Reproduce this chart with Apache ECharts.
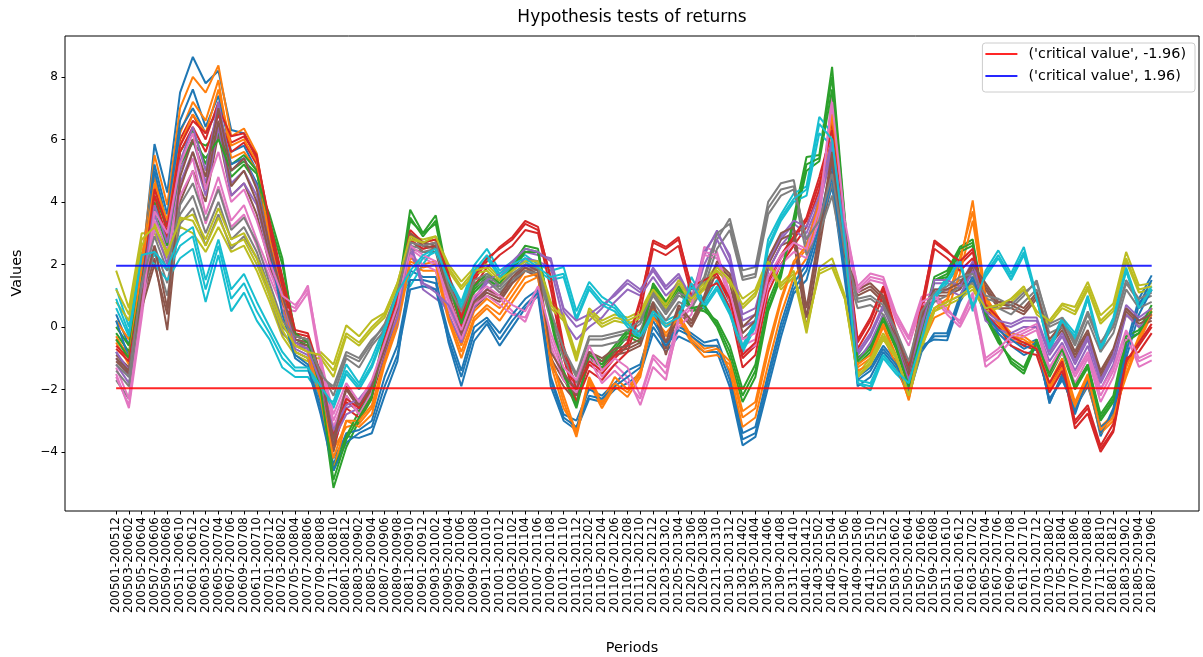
<!DOCTYPE html>
<html>
<head>
<meta charset="utf-8">
<script src="https://cdn.jsdelivr.net/npm/echarts@6/dist/echarts.min.js"></script>
<style>
  html, body { margin: 0; padding: 0; background: #ffffff; }
  #chart { width: 1203px; height: 657px; }
</style>
</head>
<body>
<div id="chart"></div>
<script>
// Rolling 12-month windows, stepped every two months
const periods = [
  '200501-200512','200503-200602','200505-200604','200507-200606','200509-200608','200511-200610',
  '200601-200612','200603-200702','200605-200704','200607-200706','200609-200708','200611-200710',
  '200701-200712','200703-200802','200705-200804','200707-200806','200709-200808','200711-200810',
  '200801-200812','200803-200902','200805-200904','200807-200906','200809-200908','200811-200910',
  '200901-200912','200903-201002','200905-201004','200907-201006','200909-201008','200911-201010',
  '201001-201012','201003-201102','201005-201104','201007-201106','201009-201108','201011-201110',
  '201101-201112','201103-201202','201105-201204','201107-201206','201109-201208','201111-201210',
  '201201-201212','201203-201302','201205-201304','201207-201306','201209-201308','201211-201310',
  '201301-201312','201303-201402','201305-201404','201307-201406','201309-201408','201311-201410',
  '201401-201412','201403-201502','201405-201504','201407-201506','201409-201508','201411-201510',
  '201501-201512','201503-201602','201505-201604','201507-201606','201509-201608','201511-201610',
  '201601-201612','201603-201702','201605-201704','201607-201706','201609-201708','201611-201710',
  '201701-201712','201703-201802','201705-201804','201707-201806','201709-201808','201711-201810',
  '201801-201812','201803-201902','201805-201904','201807-201906'
];

const yTicks = [-4, -2, 0, 2, 4, 6, 8];
const criticalLow = -1.96;
const criticalHigh = 1.96;
const tab10 = ['#1f77b4','#ff7f0e','#2ca02c','#d62728','#9467bd','#8c564b','#e377c2','#7f7f7f','#bcbd22','#17becf'];

// Test statistics, one array per return series
const line01 = [-0.8,-1.5,1.8,5.85,4.3,7.5,8.64,7.8,8.2,6.3, 6.2,5.4,3.2,1.0,-0.8,-1.0,-2.4,-4.2,-3.5,-3.55, -3.4,-2.2,-1.1,1.8,1.6,1.6,-0.5,-1.9,-0.45,0.1, -0.6,0.0,0.6,1.0,-1.9,-3.0,-3.3,-2.3,-2.4,-2.0, -1.8,-1.5,-0.2,-0.8,-0.3,-0.5,-0.8,-0.8,-1.92,-3.79, -3.52,-1.92,-0.32,1.07,1.5,3.0,4.5,1.5,-1.6,-1.3, -0.6,-1.1,-2.0,-0.6,-0.4,-0.43,0.8,1.5,0.3,0.0, -0.3,-0.6,-0.4,-2.45,-1.5,-2.8,-1.6,-3.5,-2.6,-0.6, 0.9,1.65];
const line02 = [-0.5,-1.2,2.0,5.5,3.9,7.0,8.0,7.5,8.37,6.1, 6.35,5.55,3.0,1.2,-0.5,-0.7,-2.0,-3.9,-3.2,-3.1, -2.6,-1.0,0.3,2.2,2.0,2.1,0.4,-0.6,0.5,0.9, 0.6,1.2,1.8,1.9,-0.9,-2.4,-3.52,-1.8,-2.6,-1.9, -2.24,-1.6,0.4,-0.3,0.2,-0.5,-0.96,-0.9,-1.2,-2.9, -2.6,-0.8,0.8,2.0,2.5,4.2,6.5,2.4,-1.3,-1.0, 0.0,-1.0,-2.35,-0.4,0.5,0.8,2.0,4.05,1.0,0.3, -0.2,-0.3,-0.6,-1.8,-1.0,-2.4,-1.5,-3.2,-2.8,-1.6, -0.5,0.4];
const line03 = [-0.2,-0.8,1.6,4.0,2.8,5.6,6.3,5.2,6.5,4.8, 5.2,4.6,3.6,2.2,-0.4,-0.6,-2.2,-5.15,-3.85,-3.0, -2.3,-0.3,1.0,3.75,3.0,3.57,1.5,0.0,1.2,1.6, 1.5,2.0,2.6,2.5,0.2,-1.6,-2.6,-1.0,-1.3,-0.8, -0.3,-0.5,1.2,0.6,1.2,0.5,0.6,0.0,-1.0,-2.4, -1.6,0.5,1.6,3.5,5.44,5.5,8.32,3.5,-1.0,-0.6, 0.4,-0.5,-1.8,0.0,1.6,1.8,2.56,2.8,0.5,-0.3, -1.17,-1.5,-0.5,-1.6,-0.8,-2.0,-1.3,-3.0,-2.4,-0.4, -0.2,0.6];
const line04 = [-0.6,-1.0,1.4,4.5,3.0,6.0,6.8,6.0,7.2,5.9, 6.1,5.5,3.3,1.5,-0.2,-0.3,-1.6,-3.6,-2.4,-2.7, -2.0,-0.5,0.8,3.0,2.6,2.7,1.6,0.2,1.5,2.1, 2.56,2.88,3.39,3.2,1.5,-0.8,-2.2,-1.2,-1.5,-1.0, -0.6,0.8,2.77,2.56,2.88,1.2,1.4,1.6,0.8,-1.0, -0.6,1.4,2.2,2.8,3.4,4.6,6.0,2.8,-0.5,0.2, 1.2,-0.2,-1.4,0.6,2.77,2.45,2.0,2.4,0.6,0.2, -0.4,-0.6,-0.75,-1.9,-1.2,-3.25,-2.77,-4.0,-3.36,-1.2, -0.6,0.0];
const line05 = [-1.0,-1.6,1.0,3.6,2.4,5.0,6.0,4.6,6.9,4.6, 5.0,4.2,2.4,0.9,-0.6,-0.8,-1.9,-3.4,-2.6,-2.4, -1.9,-0.8,0.2,2.6,1.2,0.9,0.6,-0.3,0.8,1.4, 1.6,2.0,2.4,2.3,2.2,0.5,0.0,0.2,0.6,1.07, 1.5,1.2,1.8,1.2,1.6,0.8,2.3,3.09,2.2,0.2, 0.4,2.0,2.8,3.3,3.0,4.0,5.5,2.9,-0.9,-0.3, 0.6,-0.3,-1.5,-0.1,1.4,1.4,1.2,2.0,0.4,0.1, 0.0,0.2,0.2,-0.9,-0.3,-1.2,-0.4,-1.8,-1.0,0.6, 0.2,0.5];
const line06 = [-0.9,-1.3,0.8,2.2,-0.1,4.0,5.0,4.0,6.2,4.2, 4.6,3.6,2.0,0.6,-0.5,-0.6,-1.8,-4.0,-2.2,-2.8, -2.2,-0.9,0.4,2.8,2.4,2.4,0.9,-0.4,0.6,1.0, 0.8,1.4,1.8,1.6,-1.2,-1.9,-2.4,-1.0,-1.2,-0.9, -0.8,-0.6,0.6,-0.9,0.5,0.0,0.8,1.8,1.4,-0.4, 0.0,1.8,2.6,2.8,-0.05,2.5,5.0,2.0,1.0,1.2, 0.8,-0.4,-1.6,0.2,1.0,1.0,1.2,1.8,1.2,0.6, 0.6,0.4,0.9,-0.6,-0.1,-1.0,-0.3,-1.6,-0.9,0.4, 0.0,0.2];
const line07 = [-1.5,-2.6,0.3,3.4,2.6,4.6,5.4,3.6,4.8,3.4, 3.9,2.8,1.8,0.8,0.6,1.33,-1.2,-3.0,-2.0,-2.6, -1.9,-0.6,0.6,2.5,2.2,2.0,0.8,-0.2,0.9,1.2, 0.9,0.5,0.16,1.2,-0.4,-1.5,-1.9,-0.8,-1.6,-1.2, -1.6,-2.5,-1.28,-1.7,0.2,0.6,2.56,2.4,1.0,-0.6, -0.4,1.5,2.2,2.6,2.4,3.6,7.5,3.2,1.3,1.71, 1.6,0.43,-0.32,0.96,1.1,0.6,0.1,1.0,-1.28,-0.96, -0.4,-0.2,0.0,-1.4,-0.7,-1.6,-0.9,-2.2,-1.4,-0.2, -1.28,-1.07];
const line08 = [-1.7,-2.3,1.2,2.6,1.4,3.6,4.2,3.0,4.0,2.8, 3.2,2.4,1.2,0.0,-0.4,-0.5,-1.6,-1.9,-0.8,-1.0, -0.4,0.0,1.0,2.6,2.5,2.6,1.2,0.6,1.4,1.6, 1.2,1.6,1.9,1.8,0.4,-0.8,-1.6,-0.4,-0.4,-0.3, -0.2,0.1,1.0,0.4,1.0,0.8,1.5,2.8,3.47,1.81, 1.92,4.0,4.6,4.7,2.6,3.2,4.6,2.2,0.8,0.9, 0.6,-0.2,-1.2,0.4,1.0,1.2,1.5,1.6,0.9,0.8, 0.6,1.0,1.49,0.0,0.2,-0.6,0.4,-0.6,0.0,1.4, 0.8,1.0];
const line09 = [1.8,0.6,3.0,3.0,2.2,3.2,3.0,2.4,3.2,2.4, 2.6,1.8,0.8,-0.3,-0.9,-1.1,-0.8,-1.2,0.05,-0.3, 0.2,0.45,1.4,2.9,2.8,2.9,2.0,1.45,1.9,2.0, 1.6,1.8,2.1,2.1,0.8,0.4,-0.9,0.6,0.2,0.4, 0.3,0.5,1.3,0.8,1.5,1.0,1.4,2.0,1.6,0.9, 1.2,2.2,1.4,1.8,0.0,1.7,1.9,0.9,-1.5,-1.0, -0.2,-0.9,-2.1,-0.6,0.6,0.8,1.0,1.4,0.6,0.7, 0.8,1.2,0.5,0.2,0.75,0.64,1.44,0.37,0.75,2.4, 1.33,1.4];
const line10 = [1.24,0.0,2.4,2.0,1.5,2.2,2.5,0.8,2.3,0.5, 1.1,0.2,-0.4,-1.3,-1.6,-1.6,-2.2,-2.4,-1.2,-1.8, -1.0,0.0,1.2,1.3,2.0,2.6,1.6,0.8,1.97,2.5, 1.8,2.1,2.3,2.0,1.8,1.92,0.5,1.44,0.96,0.7, 0.2,-0.2,0.6,0.2,0.4,1.6,0.8,1.5,0.6,-0.6, 0.2,2.8,3.6,4.27,4.5,6.72,6.2,2.8,-1.8,-2.03, -1.0,-1.5,-1.9,-0.5,1.0,1.6,2.2,0.5,1.8,2.45, 1.71,2.56,1.0,-0.8,0.2,-0.4,0.9,-0.8,0.2,1.8, 0.6,1.2];
const line11 = [0.4,-0.6,2.0,5.2,3.6,6.6,7.6,6.4,7.4,5.6, 5.8,5.0,2.8,0.8,-0.9,-1.2,-2.6,-4.4,-3.4,-3.3, -3.0,-1.6,-0.6,1.5,1.5,1.4,-0.2,-1.4,0.0,0.3, -0.2,0.4,0.9,1.2,-1.6,-2.8,-3.0,-2.0,-2.2,-1.8, -1.4,-1.2,0.2,-0.5,0.0,-0.2,-0.5,-0.4,-1.5,-3.4, -3.2,-1.5,0.1,1.4,2.0,3.4,5.2,2.0,-1.9,-1.6, -0.8,-1.3,-2.2,-0.8,-0.2,-0.2,1.0,1.8,0.4,-0.2, -0.6,-0.9,-0.7,-2.3,-1.7,-2.6,-1.9,-3.2,-2.9,-1.0, 0.4,1.2];
const line12 = [0.2,-0.4,2.2,4.8,3.2,6.2,7.2,6.6,7.9,5.4, 5.6,5.0,2.6,0.6,-0.8,-1.0,-2.3,-4.6,-3.0,-3.2, -2.8,-1.2,0.0,2.0,1.8,1.8,0.2,-1.0,0.2,0.6, 0.2,0.8,1.4,1.6,-1.2,-2.6,-3.3,-1.6,-2.4,-1.6, -2.0,-1.4,0.6,0.0,0.4,-0.3,-0.7,-0.6,-1.4,-3.2, -2.9,-1.2,0.4,1.6,2.2,3.8,6.0,2.2,-1.4,-1.2, -0.3,-1.2,-2.3,-0.6,0.3,0.5,1.7,3.4,0.8,0.1, -0.4,-0.5,-0.5,-2.0,-1.3,-2.6,-1.8,-3.4,-3.0,-1.3, -0.3,0.6];
const line13 = [0.0,-0.6,1.8,4.2,3.2,5.2,6.0,5.8,6.2,5.2, 5.5,5.0,3.0,1.6,-0.3,-0.4,-1.9,-4.6,-3.5,-2.7, -2.0,-0.2,1.1,3.4,3.0,3.3,1.3,0.1,1.1,1.5, 1.3,1.8,2.4,2.4,0.4,-1.4,-2.4,-0.8,-1.1,-0.6, -0.1,-0.3,1.4,0.8,1.3,0.6,0.5,0.2,-0.6,-2.0, -1.2,0.8,1.8,3.2,5.0,5.3,7.6,3.2,-1.2,-0.8, 0.2,-0.7,-1.9,-0.2,1.5,1.6,2.4,2.6,0.3,-0.5, -1.0,-1.3,-0.4,-1.5,-0.7,-1.9,-1.2,-2.8,-2.2,-0.3, -0.1,0.7];
const line14 = [-0.4,-0.9,1.6,4.2,2.8,5.6,6.4,5.6,6.8,5.6, 5.9,5.2,3.1,1.3,-0.3,-0.4,-1.7,-3.8,-2.6,-2.9, -2.2,-0.7,0.6,2.8,2.5,2.6,1.4,0.0,1.3,1.9, 2.3,2.6,3.1,3.0,1.2,-1.0,-2.4,-1.4,-1.7,-1.2, -0.8,0.5,2.5,2.3,2.6,1.0,1.2,1.4,0.6,-1.3, -0.9,1.1,2.0,2.6,3.2,4.4,6.6,2.6,-0.7,0.0, 1.0,-0.4,-1.6,0.4,2.5,2.2,1.8,2.2,0.4,0.0, -0.6,-0.8,-0.9,-2.1,-1.4,-3.0,-2.5,-3.8,-3.1,-1.0, -0.8,-0.2];
const line15 = [-1.2,-1.8,0.8,3.2,2.0,4.6,5.6,4.2,6.4,4.2, 4.6,3.9,2.2,0.7,-0.7,-0.9,-2.0,-3.6,-2.8,-2.6, -2.0,-0.9,0.1,2.4,1.4,1.2,0.4,-0.5,0.6,1.2, 1.4,1.8,2.2,2.1,1.9,0.2,-0.4,0.0,0.3,0.8, 1.2,1.0,1.6,1.0,1.4,0.6,2.0,2.8,2.0,0.0, 0.2,1.8,2.6,3.1,2.8,3.8,5.8,2.7,-1.1,-0.5, 0.4,-0.5,-1.7,-0.3,1.2,1.2,1.0,1.8,0.2,-0.1, -0.2,0.0,0.0,-1.1,-0.5,-1.4,-0.6,-2.0,-1.2,0.4, 0.0,0.3];
const line16 = [-1.1,-1.5,0.6,2.0,0.4,4.4,5.6,4.4,6.6,4.5, 5.0,4.0,2.3,0.8,-0.4,-0.5,-1.6,-3.8,-2.0,-2.6, -2.0,-0.8,0.5,2.9,2.6,2.5,1.0,-0.3,0.7,1.1, 0.9,1.5,1.9,1.7,-1.0,-1.7,-2.2,-0.9,-1.1,-0.8, -0.7,-0.5,0.7,-0.7,0.6,0.1,0.9,2.0,1.6,-0.2, 0.2,2.0,2.8,3.0,0.3,2.8,5.4,2.2,1.1,1.3, 0.9,-0.3,-1.5,0.3,1.1,1.1,1.3,1.9,1.3,0.7, 0.7,0.5,1.0,-0.5,0.0,-0.9,-0.2,-1.5,-0.8,0.5, 0.1,0.3];
const line17 = [-1.3,-2.3,0.5,3.2,2.4,4.2,5.0,3.3,4.5,3.2, 3.6,2.6,1.6,0.6,0.5,1.1,-1.3,-3.2,-2.2,-2.8, -2.1,-0.7,0.5,2.3,2.0,1.8,0.6,-0.4,0.7,1.0, 0.7,0.4,0.3,1.1,-0.6,-1.7,-2.1,-1.0,-1.8,-1.4, -1.8,-2.3,-1.0,-1.5,0.0,0.4,2.3,2.2,0.8,-0.8, -0.6,1.3,2.0,2.4,2.2,3.4,7.0,3.0,1.1,1.5, 1.4,0.2,-0.6,0.7,0.9,0.4,0.0,0.8,-1.1,-0.8, -0.5,-0.3,-0.1,-1.5,-0.8,-1.8,-1.0,-2.4,-1.6,-0.4, -1.1,-0.9];
const line18 = [-1.4,-1.9,1.0,2.4,1.0,3.3,3.8,2.6,3.6,2.5, 2.9,2.2,1.0,-0.2,-0.6,-0.7,-1.4,-2.2,-1.0,-1.3, -0.6,-0.1,0.9,2.5,2.4,2.5,1.1,0.4,1.3,1.5, 1.1,1.5,1.8,1.7,0.2,-1.0,-1.8,-0.6,-0.6,-0.5, -0.4,-0.1,0.8,0.2,0.8,0.6,1.3,2.5,3.1,1.5, 1.6,3.6,4.2,4.4,2.3,3.0,4.2,2.0,0.6,0.7, 0.4,-0.4,-1.4,0.2,0.8,1.0,1.3,1.4,0.7,0.6, 0.4,0.8,1.2,-0.2,0.0,-0.8,0.2,-0.8,-0.2,1.2, 0.6,0.8];
const line19 = [0.8,0.2,2.6,3.3,2.3,3.5,3.4,2.6,3.5,2.6, 2.8,2.0,1.0,-0.1,-0.8,-1.0,-1.0,-1.6,-0.3,-0.6, -0.1,0.3,1.3,2.8,2.7,2.8,1.8,1.2,1.7,1.8, 1.4,1.7,2.0,2.0,0.6,0.2,-1.1,0.4,0.0,0.2, 0.1,0.3,1.1,0.6,1.3,0.8,1.2,1.8,1.4,0.6, 1.0,2.0,1.2,1.6,-0.2,1.9,2.2,1.0,-1.6,-1.2, -0.4,-1.0,-2.2,-0.7,0.5,0.7,0.9,1.2,0.5,0.6, 0.9,1.3,0.4,0.1,0.6,0.4,1.2,0.1,0.5,2.1, 1.1,1.2];
const line20 = [0.6,-0.3,2.2,2.3,1.8,2.6,2.9,1.2,2.6,0.9, 1.4,0.5,-0.2,-1.0,-1.4,-1.4,-2.0,-2.6,-1.5,-2.0, -1.3,-0.2,1.0,1.6,2.2,2.4,1.4,0.6,1.7,2.2, 1.6,1.9,2.1,1.8,1.5,1.6,0.2,1.2,0.7,0.5, 0.0,-0.4,0.4,0.0,0.2,1.3,0.6,1.2,0.4,-0.8, 0.0,2.5,3.4,4.0,4.2,6.2,5.8,2.6,-1.7,-1.8, -0.9,-1.4,-1.8,-0.4,0.9,1.4,2.0,0.7,1.6,2.2, 1.5,2.3,0.9,-0.6,0.3,-0.2,1.0,-0.6,0.3,1.9, 0.7,1.3];
const line21 = [0.2,-1.0,1.5,5.0,3.3,6.3,7.0,6.2,7.0,5.2, 5.4,4.6,2.6,0.4,-1.0,-1.3,-2.8,-4.6,-3.7,-3.4, -3.2,-1.9,-0.9,1.2,1.3,1.2,-0.4,-1.6,-0.2,0.2, -0.4,0.2,0.7,1.1,-1.7,-2.9,-3.2,-2.2,-2.3,-1.9, -1.6,-1.3,0.0,-0.6,-0.1,-0.3,-0.6,-0.6,-1.7,-3.6, -3.4,-1.7,-0.1,1.2,1.8,3.2,4.8,1.8,-1.7,-1.4, -0.7,-1.2,-2.1,-0.7,-0.3,-0.3,0.9,1.6,0.4,-0.1, -0.4,-0.7,-0.5,-2.4,-1.6,-2.7,-1.7,-3.4,-2.7,-0.8, 0.7,1.5];
const line22 = [-0.3,-1.0,1.9,4.6,3.4,5.8,6.8,6.2,7.6,5.8, 6.0,5.3,2.8,0.9,-0.6,-0.8,-2.1,-4.2,-3.0,-3.0, -2.5,-1.1,0.2,2.1,1.9,2.0,0.3,-0.8,0.3,0.7, 0.4,1.0,1.6,1.7,-1.0,-2.2,-3.4,-1.7,-2.5,-1.8, -2.1,-1.5,0.3,-0.2,0.3,-0.4,-0.8,-0.7,-1.1,-2.7, -2.4,-0.6,0.9,2.1,2.6,4.0,6.8,2.6,-1.2,-0.9, 0.1,-0.9,-2.2,-0.3,0.6,0.9,2.2,3.7,0.9,0.2, -0.3,-0.4,-0.7,-1.9,-1.1,-2.5,-1.6,-3.3,-2.9,-1.5, -0.4,0.5];
const line23 = [-0.4,-1.0,1.4,3.8,2.6,5.2,5.9,5.4,6.0,5.0, 5.3,4.9,3.4,2.0,-0.2,-0.5,-2.0,-4.9,-3.6,-2.9, -2.2,-0.4,0.9,3.5,2.9,3.4,1.4,0.1,1.3,1.7, 1.4,1.9,2.5,2.4,0.3,-1.5,-2.5,-0.9,-1.2,-0.7, -0.2,-0.4,1.3,0.7,1.3,0.6,0.7,0.1,-0.8,-2.2, -1.4,0.6,1.7,3.4,5.2,5.4,8.0,3.4,-1.1,-0.7, 0.3,-0.6,-1.9,-0.1,1.5,1.7,2.5,2.7,0.4,-0.4, -1.1,-1.4,-0.5,-1.5,-0.7,-1.9,-1.2,-2.9,-2.3,-0.5, -0.2,0.5];
const line24 = [-0.7,-1.1,1.2,4.4,3.2,5.8,6.6,6.2,7.0,6.1, 6.2,5.4,3.4,1.6,-0.1,-0.2,-1.5,-3.5,-2.3,-2.6, -1.9,-0.4,0.9,3.1,2.7,2.8,1.7,0.3,1.6,2.2, 2.5,2.8,3.3,3.1,1.6,-0.6,-2.0,-1.1,-1.4,-0.9, -0.5,0.9,2.7,2.5,2.8,1.3,1.5,1.7,0.9,-0.9, -0.5,1.5,2.3,2.9,3.5,4.8,6.3,3.0,-0.4,0.3, 1.3,-0.1,-1.3,0.7,2.7,2.4,2.1,2.5,0.7,0.3, -0.3,-0.5,-0.7,-1.8,-1.1,-3.1,-2.6,-3.9,-3.3,-1.1, -0.5,0.1];
const line25 = [-0.8,-1.4,1.2,3.9,2.7,5.3,6.4,5.0,7.2,5.0, 5.4,4.5,2.6,1.0,-0.5,-0.7,-1.8,-3.3,-2.5,-2.3, -1.8,-0.7,0.3,2.7,1.4,1.1,0.7,-0.2,0.9,1.5, 1.7,2.1,2.5,2.4,2.1,0.6,0.2,0.4,0.7,1.0, 1.4,1.1,1.9,1.3,1.7,0.9,2.4,3.0,2.3,0.4, 0.6,2.1,2.9,3.4,3.2,4.2,6.0,3.0,-0.8,-0.2, 0.7,-0.2,-1.4,0.0,1.5,1.5,1.3,2.1,0.5,0.2, 0.1,0.3,0.3,-0.8,-0.2,-1.1,-0.3,-1.7,-0.9,0.7, 0.3,0.6];
const line26 = [-1.0,-1.4,1.0,2.6,0.6,4.8,6.0,4.8,7.0,5.0, 5.4,4.4,2.6,1.0,-0.3,-0.4,-1.5,-3.6,-1.9,-2.5, -1.9,-0.7,0.6,3.0,2.7,2.6,1.1,-0.2,0.8,1.2, 1.0,1.6,2.0,1.8,-0.8,-1.5,-2.0,-0.8,-1.0,-0.7, -0.6,-0.4,0.8,-0.5,0.7,0.2,1.0,2.1,1.7,0.0, 0.4,2.2,3.0,3.2,0.6,3.0,5.6,2.3,1.2,1.4, 1.0,-0.2,-1.4,0.4,1.2,1.2,1.4,2.0,1.4,0.8, 0.8,0.6,1.1,-0.4,0.1,-0.8,-0.1,-1.4,-0.7,0.6, 0.2,0.4];
const line27 = [-1.6,-2.5,0.6,3.7,3.0,5.2,6.2,4.4,5.6,4.0, 4.4,3.4,2.1,1.0,0.7,1.2,-1.0,-2.8,-1.8,-2.4, -1.7,-0.5,0.7,2.6,2.3,2.1,0.9,-0.1,1.0,1.3, 1.0,0.7,0.5,1.3,-0.2,-1.3,-1.7,-0.6,-1.4,-1.0, -1.3,-2.2,-0.9,-1.3,0.3,0.7,2.4,2.3,1.1,-0.4, -0.2,1.6,2.3,2.7,2.5,3.8,7.2,3.4,1.2,1.6, 1.5,0.3,-0.4,0.8,1.0,0.5,0.2,1.1,-1.0,-0.7, -0.3,-0.1,0.1,-1.3,-0.6,-1.5,-0.8,-2.0,-1.3,-0.1, -1.0,-0.8];
const line28 = [-1.2,-1.6,1.4,2.9,1.8,3.9,4.6,3.4,4.4,3.1, 3.5,2.7,1.4,0.2,-0.3,-0.4,-1.5,-2.0,-0.9,-1.1, -0.5,0.1,1.1,2.7,2.6,2.7,1.3,0.5,1.5,1.7, 1.3,1.7,2.0,1.9,0.5,-0.7,-1.5,-0.3,-0.3,-0.2, -0.1,0.2,1.1,0.5,1.1,0.9,1.6,3.0,3.3,1.6, 1.7,3.8,4.4,4.5,2.8,3.4,4.9,2.4,0.9,1.0, 0.7,-0.1,-1.1,0.5,1.1,1.3,1.6,1.7,1.0,0.9, 0.7,1.1,1.4,0.1,0.3,-0.5,0.5,-0.5,0.1,1.5, 0.9,1.1];
const line29 = [1.2,0.4,2.8,3.2,2.4,3.4,3.6,2.8,3.8,2.8, 3.0,2.2,1.2,0.1,-0.6,-0.8,-0.9,-1.4,-0.2,-0.5, 0.0,0.4,1.4,2.9,2.7,2.9,1.9,1.3,1.8,1.9, 1.5,1.8,2.1,2.1,0.7,0.3,-1.0,0.5,0.1,0.3, 0.2,0.4,1.2,0.7,1.4,0.9,1.3,1.9,1.5,0.7, 1.1,2.1,1.3,1.7,-0.1,1.8,2.0,0.9,-1.6,-1.1, -0.3,-0.9,-2.2,-0.6,0.6,0.8,1.0,1.3,0.6,0.7, 0.9,1.2,0.5,0.2,0.7,0.5,1.3,0.2,0.6,2.2, 1.2,1.3];
const line30 = [0.9,-0.2,2.3,2.4,1.9,2.9,3.2,1.5,2.8,1.2, 1.7,0.8,0.0,-0.8,-1.3,-1.3,-1.9,-2.5,-1.4,-1.9, -1.2,-0.1,1.1,1.8,2.3,2.5,1.5,0.7,1.8,2.3, 1.7,2.0,2.2,1.9,1.6,1.7,0.3,1.3,0.8,0.6, 0.1,-0.3,0.5,0.1,0.3,1.4,0.7,1.3,0.5,-0.7, 0.1,2.6,3.5,4.1,4.4,6.5,6.0,2.7,-1.8,-1.9, -0.9,-1.4,-1.8,-0.4,1.0,1.5,2.1,0.6,1.7,2.3, 1.6,2.4,0.9,-0.7,0.2,-0.3,0.9,-0.7,0.2,1.8, 0.6,1.2];

const returnLines = [line01, line02, line03, line04, line05, line06, line07, line08, line09, line10,
                     line11, line12, line13, line14, line15, line16, line17, line18, line19, line20,
                     line21, line22, line23, line24, line25, line26, line27, line28, line29, line30];

const FONT = 'DejaVu Sans';
const lowName = "('critical value', -1.96)";
const highName = "('critical value', 1.96)";
const positions = periods.map((_, i) => i);

const chart = echarts.init(document.getElementById('chart'), null, { renderer: 'canvas' });

const series = returnLines.map((vals, k) => ({
  type: 'line',
  name: 'series ' + (k + 1),
  data: vals.map((v, i) => [i, v]),
  symbol: 'none',
  silent: true,
  z: 2,
  lineStyle: { width: 2, color: tab10[k % 10] },
  itemStyle: { color: tab10[k % 10] }
}));

series.push({
  type: 'line', name: lowName, symbol: 'none', silent: true, z: 3,
  data: positions.map(i => [i, criticalLow]),
  lineStyle: { width: 2, color: 'rgba(255,0,0,0.85)' },
  itemStyle: { color: 'rgba(255,0,0,0.85)' }
});
series.push({
  type: 'line', name: highName, symbol: 'none', silent: true, z: 3,
  data: positions.map(i => [i, criticalHigh]),
  lineStyle: { width: 2, color: 'rgba(0,0,255,0.85)' },
  itemStyle: { color: 'rgba(0,0,255,0.85)' }
});

const minus = v => (v < 0 ? '\u2212' + Math.abs(v) : String(v));

chart.setOption({
  animation: false,
  backgroundColor: '#ffffff',
  title: {
    text: 'Hypothesis tests of returns',
    left: 632, top: 9, textAlign: 'center', padding: 0,
    textStyle: { fontFamily: FONT, fontSize: 17, fontWeight: 'normal', color: '#000' }
  },
  grid: {
    left: 65, right: 4, top: 36, bottom: 146,
    show: true, borderColor: '#000', borderWidth: 1, backgroundColor: 'transparent'
  },
  xAxis: {
    type: 'value', min: -4, max: 84.7,
    axisLine: { show: false, onZero: false },
    splitLine: { show: false },
    axisTick: { show: true, customValues: positions, length: 3.5, lineStyle: { color: '#000', width: 1 } },
    axisLabel: {
      show: true, customValues: positions, rotate: 90, margin: 6,
      formatter: v => periods[Math.round(v)] || '',
      fontFamily: FONT, fontSize: 12, color: '#000'
    }
  },
  yAxis: {
    type: 'value', min: -5.89, max: 9.31,
    axisLine: { show: false, onZero: false },
    splitLine: { show: false },
    axisTick: { show: true, customValues: yTicks, length: 3.5, lineStyle: { color: '#000', width: 1 } },
    axisLabel: {
      show: true, customValues: yTicks, margin: 7,
      formatter: minus,
      fontFamily: FONT, fontSize: 12, color: '#000'
    }
  },
  legend: {
    data: [lowName, highName],
    orient: 'vertical', right: 8, top: 43,
    icon: 'rect', itemWidth: 32, itemHeight: 2, itemGap: 6,
    padding: [3, 9, 8, 3],
    backgroundColor: 'rgba(255,255,255,0.8)',
    borderColor: '#cccccc', borderWidth: 1, borderRadius: 3,
    selectedMode: false,
    textStyle: { fontFamily: FONT, fontSize: 14.4, color: '#000', lineHeight: 16, padding: [0, 0, 0, 6] }
  },
  graphic: [
    {
      type: 'text', x: 17, y: 273, rotation: Math.PI / 2,
      style: { text: 'Values', font: '14.4px "DejaVu Sans"', fill: '#000', textAlign: 'center', textVerticalAlign: 'middle' }
    },
    {
      type: 'text', x: 632, y: 648,
      style: { text: 'Periods', font: '14.4px "DejaVu Sans"', fill: '#000', textAlign: 'center', textVerticalAlign: 'middle' }
    }
  ],
  series: series
});
</script>
</body>
</html>
